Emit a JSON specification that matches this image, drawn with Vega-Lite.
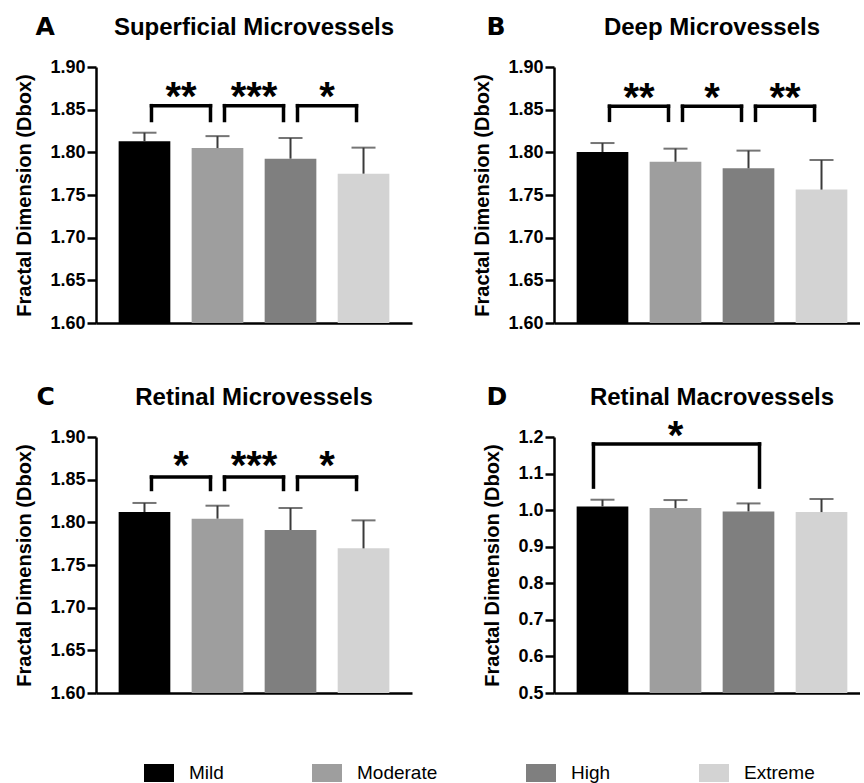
{
  "$schema": "https://vega.github.io/schema/vega-lite/v6.json",
  "background": "white",
  "padding": {"left": 14, "top": 14, "right": 0, "bottom": 0},
  "columns": 2,
  "spacing": {"row": 52, "column": 60},
  "datasets": {
    "bars": [
      {"panel": "A", "group": "Mild", "mean": 1.813, "upper": 1.823},
      {"panel": "A", "group": "Moderate", "mean": 1.805, "upper": 1.819},
      {"panel": "A", "group": "High", "mean": 1.7926, "upper": 1.8168},
      {"panel": "A", "group": "Extreme", "mean": 1.775, "upper": 1.8055},
      {"panel": "B", "group": "Mild", "mean": 1.8004, "upper": 1.8109},
      {"panel": "B", "group": "Moderate", "mean": 1.789, "upper": 1.8043},
      {"panel": "B", "group": "High", "mean": 1.7813, "upper": 1.802},
      {"panel": "B", "group": "Extreme", "mean": 1.7563, "upper": 1.791},
      {"panel": "C", "group": "Mild", "mean": 1.8121, "upper": 1.8227},
      {"panel": "C", "group": "Moderate", "mean": 1.8043, "upper": 1.8195},
      {"panel": "C", "group": "High", "mean": 1.791, "upper": 1.8168},
      {"panel": "C", "group": "Extreme", "mean": 1.7695, "upper": 1.8023},
      {"panel": "D", "group": "Mild", "mean": 1.01, "upper": 1.0285},
      {"panel": "D", "group": "Moderate", "mean": 1.0057, "upper": 1.0276},
      {"panel": "D", "group": "High", "mean": 0.9965, "upper": 1.0184},
      {"panel": "D", "group": "Extreme", "mean": 0.9947, "upper": 1.0303}
    ],
    "sig": [
      {"panel": "A", "from": 1, "to": 2, "mid": 1.5, "top": 1.8547, "leg": 1.8373, "star": 1.8752, "label": "**"},
      {"panel": "A", "from": 2, "to": 3, "mid": 2.5, "top": 1.8547, "leg": 1.8373, "star": 1.8752, "label": "***"},
      {"panel": "A", "from": 3, "to": 4, "mid": 3.5, "top": 1.8547, "leg": 1.8373, "star": 1.8752, "label": "*"},
      {"panel": "B", "from": 1, "to": 2, "mid": 1.5, "top": 1.854, "leg": 1.8375, "star": 1.8746, "label": "**"},
      {"panel": "B", "from": 2, "to": 3, "mid": 2.5, "top": 1.854, "leg": 1.8375, "star": 1.8746, "label": "*"},
      {"panel": "B", "from": 3, "to": 4, "mid": 3.5, "top": 1.854, "leg": 1.8375, "star": 1.8746, "label": "**"},
      {"panel": "C", "from": 1, "to": 2, "mid": 1.5, "top": 1.853, "leg": 1.8385, "star": 1.876, "label": "*"},
      {"panel": "C", "from": 2, "to": 3, "mid": 2.5, "top": 1.853, "leg": 1.8385, "star": 1.876, "label": "***"},
      {"panel": "C", "from": 3, "to": 4, "mid": 3.5, "top": 1.853, "leg": 1.8385, "star": 1.876, "label": "*"},
      {"panel": "D", "from": 1, "to": 3, "mid": 2, "top": 1.181, "leg": 1.063, "star": 1.2274, "label": "*"}
    ]
  },
  "concat": [
    {
      "width": 316, "height": 256,
      "title": {"text": "Superficial Microvessels"},
      "resolve": {"scale": {"x": "independent"}},
      "layer": [
        {
          "data": {"name": "bars"},
          "transform": [{"filter": "datum.panel === 'A'"}],
          "encoding": {
            "x": {"field": "group", "type": "nominal", "sort": ["Mild", "Moderate", "High", "Extreme"], "scale": {"paddingInner": 0.292, "paddingOuter": 0.31}, "axis": {"title": null, "orient": "bottom"}},
            "y": {"field": "mean", "type": "quantitative", "scale": {"domain": [1.6, 1.9], "zero": false, "nice": false}, "axis": {"values": [1.6, 1.65, 1.7, 1.75, 1.8, 1.85, 1.9], "tickCount": 10, "format": ".2f", "title": "Fractal Dimension (Dbox)", "labelOverlap": false}}
          },
          "layer": [
            {"mark": {"type": "bar", "clip": true}, "encoding": {"color": {"field": "group", "type": "nominal", "scale": {"domain": ["Mild", "Moderate", "High", "Extreme"], "range": ["#000000", "#9e9e9e", "#7f7f7f", "#d3d3d3"]}, "legend": {"title": null, "orient": "none", "legendX": 48, "legendY": 691, "direction": "horizontal", "columns": 4, "symbolType": "M-1,-0.6H1V0.6H-1Z", "symbolSize": 900, "symbolStrokeWidth": 0, "symbolOpacity": 1, "labelFontSize": 19, "labelFont": "Liberation Sans", "labelColor": "black", "labelOffset": 15, "columnPadding": 88, "padding": 0}}}},
            {"mark": {"type": "rule", "color": "#3a3a3a", "strokeWidth": 2}, "encoding": {"y2": {"field": "upper"}}},
            {"mark": {"type": "tick", "color": "#3a3a3a", "thickness": 2, "size": 24}, "encoding": {"y": {"field": "upper", "type": "quantitative", "scale": {"domain": [1.6, 1.9], "zero": false, "nice": false}}}}
          ]
        },
        {
          "data": {"name": "sig"},
          "transform": [{"filter": "datum.panel === 'A'"}],
          "encoding": {
            "x": {"field": "from", "type": "quantitative", "scale": {"domain": [0.336, 4.664], "zero": false, "nice": false}, "axis": {"orient": "top", "title": "A", "titleX": -61, "titleY": -33, "domain": false, "ticks": false, "labels": false, "grid": false}},
            "y": {"field": "top", "type": "quantitative", "scale": {"domain": [1.6, 1.9], "zero": false, "nice": false}}
          },
          "layer": [
            {"mark": {"type": "rule", "color": "black", "strokeWidth": 3.5, "strokeCap": "square", "xOffset": 7, "x2Offset": -7}, "encoding": {"x2": {"field": "to"}}},
            {"mark": {"type": "rule", "color": "black", "strokeWidth": 3.5, "strokeCap": "square", "xOffset": 7}, "encoding": {"y2": {"field": "leg"}}},
            {"mark": {"type": "rule", "color": "black", "strokeWidth": 3.5, "strokeCap": "square", "xOffset": -7}, "encoding": {"x": {"field": "to", "type": "quantitative", "scale": {"domain": [0.336, 4.664], "zero": false, "nice": false}}, "y2": {"field": "leg"}}},
            {"mark": {"type": "text", "fontSize": 40, "fontWeight": "bold", "baseline": "alphabetic", "dy": 22, "color": "black"}, "encoding": {"x": {"field": "mid", "type": "quantitative", "scale": {"domain": [0.336, 4.664], "zero": false, "nice": false}}, "y": {"field": "star", "type": "quantitative", "scale": {"domain": [1.6, 1.9], "zero": false, "nice": false}}, "text": {"field": "label"}}}
          ]
        }
      ]
    },
    {
      "width": 306, "height": 256,
      "title": {"text": "Deep Microvessels", "dx": 5},
      "resolve": {"scale": {"x": "independent"}},
      "layer": [
        {
          "data": {"name": "bars"},
          "transform": [{"filter": "datum.panel === 'B'"}],
          "encoding": {
            "x": {"field": "group", "type": "nominal", "sort": ["Mild", "Moderate", "High", "Extreme"], "scale": {"paddingInner": 0.292, "paddingOuter": 0.2417, "align": 0.6416}, "axis": {"title": null, "orient": "bottom"}},
            "y": {"field": "mean", "type": "quantitative", "scale": {"domain": [1.6, 1.9], "zero": false, "nice": false}, "axis": {"values": [1.6, 1.65, 1.7, 1.75, 1.8, 1.85, 1.9], "tickCount": 10, "format": ".2f", "title": "Fractal Dimension (Dbox)", "labelOverlap": false}}
          },
          "layer": [
            {"mark": {"type": "bar", "clip": true}, "encoding": {"color": {"field": "group", "type": "nominal", "scale": {"domain": ["Mild", "Moderate", "High", "Extreme"], "range": ["#000000", "#9e9e9e", "#7f7f7f", "#d3d3d3"]}, "legend": {"title": null, "orient": "none", "legendX": 48, "legendY": 691, "direction": "horizontal", "columns": 4, "symbolType": "M-1,-0.6H1V0.6H-1Z", "symbolSize": 900, "symbolStrokeWidth": 0, "symbolOpacity": 1, "labelFontSize": 19, "labelFont": "Liberation Sans", "labelColor": "black", "labelOffset": 15, "columnPadding": 88, "padding": 0}}}},
            {"mark": {"type": "rule", "color": "#3a3a3a", "strokeWidth": 2}, "encoding": {"y2": {"field": "upper"}}},
            {"mark": {"type": "tick", "color": "#3a3a3a", "thickness": 2, "size": 24}, "encoding": {"y": {"field": "upper", "type": "quantitative", "scale": {"domain": [1.6, 1.9], "zero": false, "nice": false}}}}
          ]
        },
        {
          "data": {"name": "sig"},
          "transform": [{"filter": "datum.panel === 'B'"}],
          "encoding": {
            "x": {"field": "from", "type": "quantitative", "scale": {"domain": [0.336, 4.527], "zero": false, "nice": false}, "axis": {"orient": "top", "title": "B", "titleX": -68, "titleY": -33, "domain": false, "ticks": false, "labels": false, "grid": false}},
            "y": {"field": "top", "type": "quantitative", "scale": {"domain": [1.6, 1.9], "zero": false, "nice": false}}
          },
          "layer": [
            {"mark": {"type": "rule", "color": "black", "strokeWidth": 3.5, "strokeCap": "square", "xOffset": 7, "x2Offset": -7}, "encoding": {"x2": {"field": "to"}}},
            {"mark": {"type": "rule", "color": "black", "strokeWidth": 3.5, "strokeCap": "square", "xOffset": 7}, "encoding": {"y2": {"field": "leg"}}},
            {"mark": {"type": "rule", "color": "black", "strokeWidth": 3.5, "strokeCap": "square", "xOffset": -7}, "encoding": {"x": {"field": "to", "type": "quantitative", "scale": {"domain": [0.336, 4.527], "zero": false, "nice": false}}, "y2": {"field": "leg"}}},
            {"mark": {"type": "text", "fontSize": 40, "fontWeight": "bold", "baseline": "alphabetic", "dy": 22, "color": "black"}, "encoding": {"x": {"field": "mid", "type": "quantitative", "scale": {"domain": [0.336, 4.527], "zero": false, "nice": false}}, "y": {"field": "star", "type": "quantitative", "scale": {"domain": [1.6, 1.9], "zero": false, "nice": false}}, "text": {"field": "label"}}}
          ]
        }
      ]
    },
    {
      "width": 316, "height": 256,
      "title": {"text": "Retinal Microvessels"},
      "resolve": {"scale": {"x": "independent"}},
      "layer": [
        {
          "data": {"name": "bars"},
          "transform": [{"filter": "datum.panel === 'C'"}],
          "encoding": {
            "x": {"field": "group", "type": "nominal", "sort": ["Mild", "Moderate", "High", "Extreme"], "scale": {"paddingInner": 0.292, "paddingOuter": 0.31}, "axis": {"title": null, "orient": "bottom"}},
            "y": {"field": "mean", "type": "quantitative", "scale": {"domain": [1.6, 1.9], "zero": false, "nice": false}, "axis": {"values": [1.6, 1.65, 1.7, 1.75, 1.8, 1.85, 1.9], "tickCount": 10, "format": ".2f", "title": "Fractal Dimension (Dbox)", "labelOverlap": false}}
          },
          "layer": [
            {"mark": {"type": "bar", "clip": true}, "encoding": {"color": {"field": "group", "type": "nominal", "scale": {"domain": ["Mild", "Moderate", "High", "Extreme"], "range": ["#000000", "#9e9e9e", "#7f7f7f", "#d3d3d3"]}, "legend": {"title": null, "orient": "none", "legendX": 48, "legendY": 691, "direction": "horizontal", "columns": 4, "symbolType": "M-1,-0.6H1V0.6H-1Z", "symbolSize": 900, "symbolStrokeWidth": 0, "symbolOpacity": 1, "labelFontSize": 19, "labelFont": "Liberation Sans", "labelColor": "black", "labelOffset": 15, "columnPadding": 88, "padding": 0}}}},
            {"mark": {"type": "rule", "color": "#3a3a3a", "strokeWidth": 2}, "encoding": {"y2": {"field": "upper"}}},
            {"mark": {"type": "tick", "color": "#3a3a3a", "thickness": 2, "size": 24}, "encoding": {"y": {"field": "upper", "type": "quantitative", "scale": {"domain": [1.6, 1.9], "zero": false, "nice": false}}}}
          ]
        },
        {
          "data": {"name": "sig"},
          "transform": [{"filter": "datum.panel === 'C'"}],
          "encoding": {
            "x": {"field": "from", "type": "quantitative", "scale": {"domain": [0.336, 4.664], "zero": false, "nice": false}, "axis": {"orient": "top", "title": "C", "titleX": -60, "titleY": -33, "domain": false, "ticks": false, "labels": false, "grid": false}},
            "y": {"field": "top", "type": "quantitative", "scale": {"domain": [1.6, 1.9], "zero": false, "nice": false}}
          },
          "layer": [
            {"mark": {"type": "rule", "color": "black", "strokeWidth": 3.5, "strokeCap": "square", "xOffset": 7, "x2Offset": -7}, "encoding": {"x2": {"field": "to"}}},
            {"mark": {"type": "rule", "color": "black", "strokeWidth": 3.5, "strokeCap": "square", "xOffset": 7}, "encoding": {"y2": {"field": "leg"}}},
            {"mark": {"type": "rule", "color": "black", "strokeWidth": 3.5, "strokeCap": "square", "xOffset": -7}, "encoding": {"x": {"field": "to", "type": "quantitative", "scale": {"domain": [0.336, 4.664], "zero": false, "nice": false}}, "y2": {"field": "leg"}}},
            {"mark": {"type": "text", "fontSize": 40, "fontWeight": "bold", "baseline": "alphabetic", "dy": 22, "color": "black"}, "encoding": {"x": {"field": "mid", "type": "quantitative", "scale": {"domain": [0.336, 4.664], "zero": false, "nice": false}}, "y": {"field": "star", "type": "quantitative", "scale": {"domain": [1.6, 1.9], "zero": false, "nice": false}}, "text": {"field": "label"}}}
          ]
        }
      ]
    },
    {
      "width": 306, "height": 256,
      "title": {"text": "Retinal Macrovessels", "dx": 5},
      "resolve": {"scale": {"x": "independent"}},
      "layer": [
        {
          "data": {"name": "bars"},
          "transform": [{"filter": "datum.panel === 'D'"}],
          "encoding": {
            "x": {"field": "group", "type": "nominal", "sort": ["Mild", "Moderate", "High", "Extreme"], "scale": {"paddingInner": 0.292, "paddingOuter": 0.2417, "align": 0.6416}, "axis": {"title": null, "orient": "bottom"}},
            "y": {"field": "mean", "type": "quantitative", "scale": {"domain": [0.5, 1.2], "zero": false, "nice": false}, "axis": {"values": [0.5, 0.6, 0.7, 0.8, 0.9, 1.0, 1.1, 1.2], "tickCount": 10, "format": ".1f", "title": "Fractal Dimension (Dbox)", "labelOverlap": false}}
          },
          "layer": [
            {"mark": {"type": "bar", "clip": true}, "encoding": {"color": {"field": "group", "type": "nominal", "scale": {"domain": ["Mild", "Moderate", "High", "Extreme"], "range": ["#000000", "#9e9e9e", "#7f7f7f", "#d3d3d3"]}, "legend": {"title": null, "orient": "none", "legendX": 48, "legendY": 691, "direction": "horizontal", "columns": 4, "symbolType": "M-1,-0.6H1V0.6H-1Z", "symbolSize": 900, "symbolStrokeWidth": 0, "symbolOpacity": 1, "labelFontSize": 19, "labelFont": "Liberation Sans", "labelColor": "black", "labelOffset": 15, "columnPadding": 88, "padding": 0}}}},
            {"mark": {"type": "rule", "color": "#3a3a3a", "strokeWidth": 2}, "encoding": {"y2": {"field": "upper"}}},
            {"mark": {"type": "tick", "color": "#3a3a3a", "thickness": 2, "size": 24}, "encoding": {"y": {"field": "upper", "type": "quantitative", "scale": {"domain": [0.5, 1.2], "zero": false, "nice": false}}}}
          ]
        },
        {
          "data": {"name": "sig"},
          "transform": [{"filter": "datum.panel === 'D'"}],
          "encoding": {
            "x": {"field": "from", "type": "quantitative", "scale": {"domain": [0.336, 4.527], "zero": false, "nice": false}, "axis": {"orient": "top", "title": "D", "titleX": -68, "titleY": -33, "domain": false, "ticks": false, "labels": false, "grid": false}},
            "y": {"field": "top", "type": "quantitative", "scale": {"domain": [0.5, 1.2], "zero": false, "nice": false}}
          },
          "layer": [
            {"mark": {"type": "rule", "color": "black", "strokeWidth": 3.5, "strokeCap": "square", "xOffset": -9, "x2Offset": 11}, "encoding": {"x2": {"field": "to"}}},
            {"mark": {"type": "rule", "color": "black", "strokeWidth": 3.5, "strokeCap": "square", "xOffset": -9}, "encoding": {"y2": {"field": "leg"}}},
            {"mark": {"type": "rule", "color": "black", "strokeWidth": 3.5, "strokeCap": "square", "xOffset": 11}, "encoding": {"x": {"field": "to", "type": "quantitative", "scale": {"domain": [0.336, 4.527], "zero": false, "nice": false}}, "y2": {"field": "leg"}}},
            {"mark": {"type": "text", "fontSize": 40, "fontWeight": "bold", "baseline": "alphabetic", "dy": 22, "color": "black"}, "encoding": {"x": {"field": "mid", "type": "quantitative", "scale": {"domain": [0.336, 4.527], "zero": false, "nice": false}}, "y": {"field": "star", "type": "quantitative", "scale": {"domain": [0.5, 1.2], "zero": false, "nice": false}}, "text": {"field": "label"}}}
          ]
        }
      ]
    }
  ],
  "config": {
    "view": {"stroke": null},
    "font": "Liberation Sans",
    "title": {"fontSize": 24, "fontWeight": "bold", "color": "black", "anchor": "middle", "baseline": "alphabetic", "offset": -26, "frame": "group"},
    "axisY": {"labelFontSize": 18, "labelFontWeight": "bold", "labelColor": "black", "labelPadding": 2, "labelOverlap": false, "tickCount": 10, "tickSize": 9, "tickWidth": 2.5, "tickColor": "black", "domainColor": "black", "domainWidth": 2.5, "titleFontSize": 20, "titleFontWeight": "bold", "titleColor": "black", "titlePadding": 15, "grid": false},
    "axisBottom": {"domainColor": "black", "domainWidth": 2.5, "ticks": false, "labels": false, "grid": false},
    "axisTop": {"titleFont": "DejaVu Sans", "titleFontWeight": "bold", "titleFontSize": 25, "titleColor": "black", "titleAlign": "left", "titleBaseline": "alphabetic", "titleAnchor": "start"},
    "legend": {"orient": "none", "legendX": 48, "legendY": 691, "direction": "horizontal"}
  }
}
